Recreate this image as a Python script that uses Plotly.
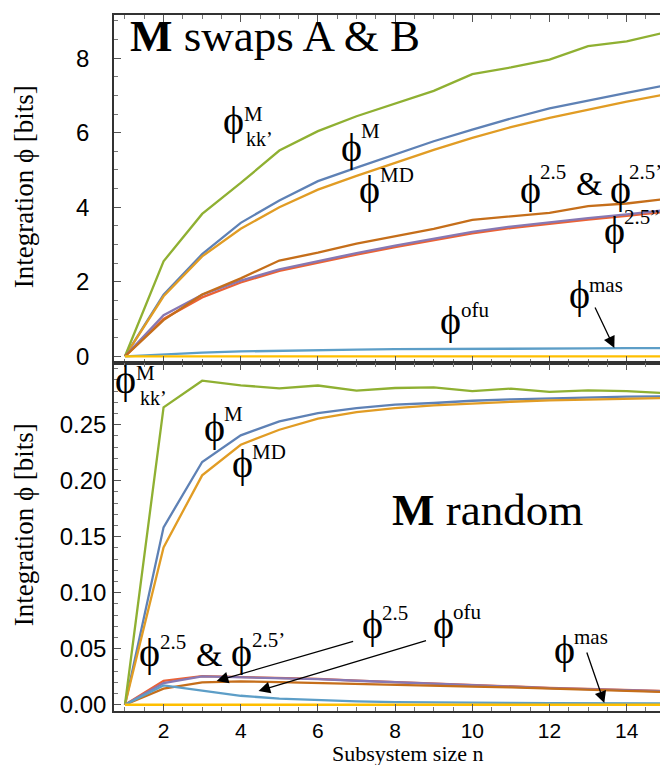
import plotly.graph_objects as go
from plotly.subplots import make_subplots

# ---------------- data ----------------
n = list(range(1, 16))

# Top panel: M swaps A & B
phiM_top = [0, 1.65, 2.74, 3.58, 4.18, 4.70, 5.06, 5.42, 5.77, 6.08, 6.38, 6.65, 6.87, 7.07, 7.27]
phiMD_top = [0, 1.61, 2.68, 3.42, 4.00, 4.47, 4.84, 5.19, 5.54, 5.86, 6.15, 6.40, 6.62, 6.83, 7.03]
phiKK_top = [0, 2.55, 3.82, 4.65, 5.52, 6.04, 6.44, 6.78, 7.12, 7.57, 7.75, 7.96, 8.32, 8.45, 8.69]
phi25pp_top = [0, 1.00, 1.58, 1.98, 2.29, 2.52, 2.73, 2.93, 3.12, 3.30, 3.44, 3.56, 3.67, 3.77, 3.88]
phi25_top = [0, 1.10, 1.65, 2.03, 2.33, 2.56, 2.77, 2.97, 3.16, 3.34, 3.48, 3.60, 3.71, 3.81, 3.92]
phi25p_top = [0, 0.97, 1.66, 2.09, 2.57, 2.78, 3.02, 3.22, 3.42, 3.66, 3.75, 3.85, 4.03, 4.10, 4.22]
phiOFU_top = [0, 0.06, 0.10, 0.13, 0.15, 0.17, 0.18, 0.19, 0.19, 0.20, 0.20, 0.21, 0.21, 0.22, 0.22]
phiMAS_top = [0, 0, 0, 0, 0, 0, 0, 0, 0, 0, 0, 0, 0, 0, 0]

# Bottom panel: M random
phiM_bot = [0, 0.1584, 0.2167, 0.2405, 0.2530, 0.2604, 0.2649, 0.2679, 0.2694, 0.2714, 0.2727, 0.2735, 0.2744, 0.2750, 0.2753]
phiMD_bot = [0, 0.1405, 0.2048, 0.2321, 0.2455, 0.2554, 0.2613, 0.2649, 0.2673, 0.2691, 0.2705, 0.2717, 0.2726, 0.2732, 0.2738]
phiKK_bot = [0, 0.2655, 0.2893, 0.2852, 0.2825, 0.2850, 0.2805, 0.2828, 0.2834, 0.2800, 0.2822, 0.2793, 0.2807, 0.2800, 0.2782]
phi25pp_bot = [0, 0.0214, 0.0255, 0.0249, 0.0240, 0.0231, 0.0216, 0.0202, 0.0190, 0.0175, 0.0163, 0.0151, 0.0142, 0.0130, 0.0121]
phi25_bot = [0, 0.0193, 0.0253, 0.0247, 0.0238, 0.0229, 0.0214, 0.0200, 0.0188, 0.0173, 0.0161, 0.0149, 0.0140, 0.0128, 0.0119]
phi25p_bot = [0, 0.0143, 0.0199, 0.0208, 0.0202, 0.0193, 0.0187, 0.0179, 0.0170, 0.0161, 0.0155, 0.0146, 0.0137, 0.0125, 0.0113]
phiOFU_bot = [0, 0.0173, 0.0125, 0.0080, 0.0054, 0.0039, 0.0030, 0.0024, 0.0020, 0.0018, 0.0016, 0.0015, 0.0014, 0.0013, 0.0012]
phiMAS_bot = [0, 0, 0, 0, 0, 0, 0, 0, 0, 0, 0, 0, 0, 0, 0]

x_tickvals = [2, 4, 6, 8, 10, 12, 14]
y_top_tickvals = [0, 2, 4, 6, 8]
y_bot_tickvals = [0, 0.05, 0.10, 0.15, 0.20, 0.25]

colors = ["#5E81B5", "#E19C24", "#8FB032", "#EB6235", "#8778B3", "#C56E1A", "#5D9EC7", "#FFBF00"]
names = ["φM", "φMD", "φM_kk'", "φ2.5''", "φ2.5", "φ2.5'", "φofu", "φmas"]
top_series = [phiM_top, phiMD_top, phiKK_top, phi25pp_top, phi25_top, phi25p_top, phiOFU_top, phiMAS_top]
bot_series = [phiM_bot, phiMD_bot, phiKK_bot, phi25pp_bot, phi25_bot, phi25p_bot, phiOFU_bot, phiMAS_bot]

# ---------------- figure ----------------
W, H = 668, 765
ML, MR, MT, MB = 106, 1, 7, 62
fig = make_subplots(rows=2, cols=1, shared_xaxes=True, vertical_spacing=0)

for ys, c, nm in zip(top_series, colors, names):
    fig.add_trace(go.Scatter(x=n, y=ys, mode="lines", name=nm,
                             line=dict(color=c, width=2.3)), row=1, col=1)
for ys, c, nm in zip(bot_series, colors, names):
    fig.add_trace(go.Scatter(x=n, y=ys, mode="lines", name=nm,
                             line=dict(color=c, width=2.3)), row=2, col=1)

tickfont = dict(family="Liberation Sans, Arial, sans-serif", size=24, color="black")
serif = "Liberation Serif, Times New Roman, DejaVu Serif, serif"

common = dict(showline=True, linecolor="#333333", linewidth=1.5, mirror="allticks",
              ticks="inside", ticklen=7, tickwidth=1, tickcolor="#555555",
              showgrid=False, zeroline=False, tickfont=tickfont)

xr = [0.716, 15.2]
fig.update_xaxes(range=xr, tickvals=x_tickvals,
                 minor=dict(ticks="inside", ticklen=4, tickcolor="#777777", dtick=0.5, tick0=0),
                 **common)
fig.update_xaxes(showticklabels=False, row=1, col=1)
fig.update_xaxes(ticklabelstandoff=0, row=2, col=1,
                 tickfont=dict(family="Liberation Sans, Arial, sans-serif", size=21, color="black"))

fig.update_yaxes(range=[-0.18, 9.157], tickvals=y_top_tickvals, domain=[0.5, 1.0],
                 minor=dict(ticks="inside", ticklen=4, tickcolor="#777777", dtick=0.5, tick0=0),
                 ticklabelstandoff=18, row=1, col=1, **common)
fig.update_yaxes(range=[-0.0056, 0.3051], tickvals=y_bot_tickvals, tickformat=".2f",
                 domain=[0.0, 0.5],
                 minor=dict(ticks="inside", ticklen=4, tickcolor="#777777", dtick=0.01, tick0=0),
                 ticklabelstandoff=1, row=2, col=1, **common)

PW = W - ML - MR
PH = H - MT - MB


def px(x):
    return (x - ML) / PW


def py(y):
    return (H - MB - y) / PH


annotations = []
DY = -6  # serif glyphs sit low inside plotly's text box


def text(xp, yp, s, size, xanchor="left", yanchor="middle", angle=0, dy=DY):
    annotations.append(dict(x=px(xp), y=py(yp + dy), xref="paper", yref="paper", text=s,
                            showarrow=False, xanchor=xanchor, yanchor=yanchor,
                            textangle=angle, borderpad=0,
                            font=dict(family=serif, size=size, color="black")))


PHI = "\u03d5"
FPHI = 40
FSUP = 21


def phi(xc, yc):
    text(xc, yc, PHI, FPHI, xanchor="center")


def sup(xl, yc, s, size=FSUP):
    text(xl, yc, s, size)


# panel titles
text(268, 34, "<b>M</b> swaps A &amp; B", 45, xanchor="center")
text(481, 508, "<b>M</b> random", 45, xanchor="center")

# top panel labels
phi(226, 118); sup(235, 112, "M"); sup(237, 137, "kk\u2019", 20)
phi(344, 145); sup(353, 129, "M")
phi(362, 187); sup(372, 173, "MD")
phi(524, 187); sup(533, 170, "2.5")
text(583, 181, "&amp;", 34, xanchor="center")
phi(614, 187); sup(622, 170, "2.5\u2019")
phi(608, 228); sup(617, 215, "2.5\u201d")
phi(444, 318); sup(453, 308, "ofu")
phi(573, 293); sup(582, 283, "mas")

# bottom panel labels
phi(118, 377); sup(127, 371, "M"); sup(131, 396, "kk\u2019", 20)
phi(207, 425); sup(215, 412, "M")
phi(235, 461); sup(243, 450, "MD")
phi(142, 650); sup(151, 640, "2.5")
text(201, 652, "&amp;", 34, xanchor="center")
phi(234, 650); sup(243, 638, "2.5\u2019")
phi(365, 622); sup(374, 611, "2.5")
phi(437, 622); sup(445, 610, "ofu")
phi(558, 647); sup(567, 635, "mas")

# axis titles
text(16, 179, "Integration " + PHI + " [bits]", 27, xanchor="center", angle=-90, dy=0)
text(16, 517, "Integration " + PHI + " [bits]", 27, xanchor="center", angle=-90, dy=0)
text(401, 745, "Subsystem size n", 22, xanchor="center", dy=0)


def arrow(xd, yd, yref, ax, ay):
    annotations.append(dict(x=xd, y=yd, xref="x" if yref == "y" else "x2", yref=yref,
                            ax=ax, ay=ay, text="", showarrow=True,
                            arrowhead=2, arrowsize=1.8, arrowwidth=1.3, arrowcolor="black"))


arrow(13.68, 0.22, "y", -20, -42)
arrow(3.375, 0.0212, "y2", 138, -40)
arrow(4.46, 0.0122, "y2", 169, -51)
arrow(13.42, 0.0015, "y2", -18, -52)

fig.update_layout(width=W, height=H, margin=dict(l=ML, r=MR, t=MT, b=MB),
                  plot_bgcolor="white", paper_bgcolor="white", showlegend=False,
                  annotations=annotations)

fig.write_html("out.html")
